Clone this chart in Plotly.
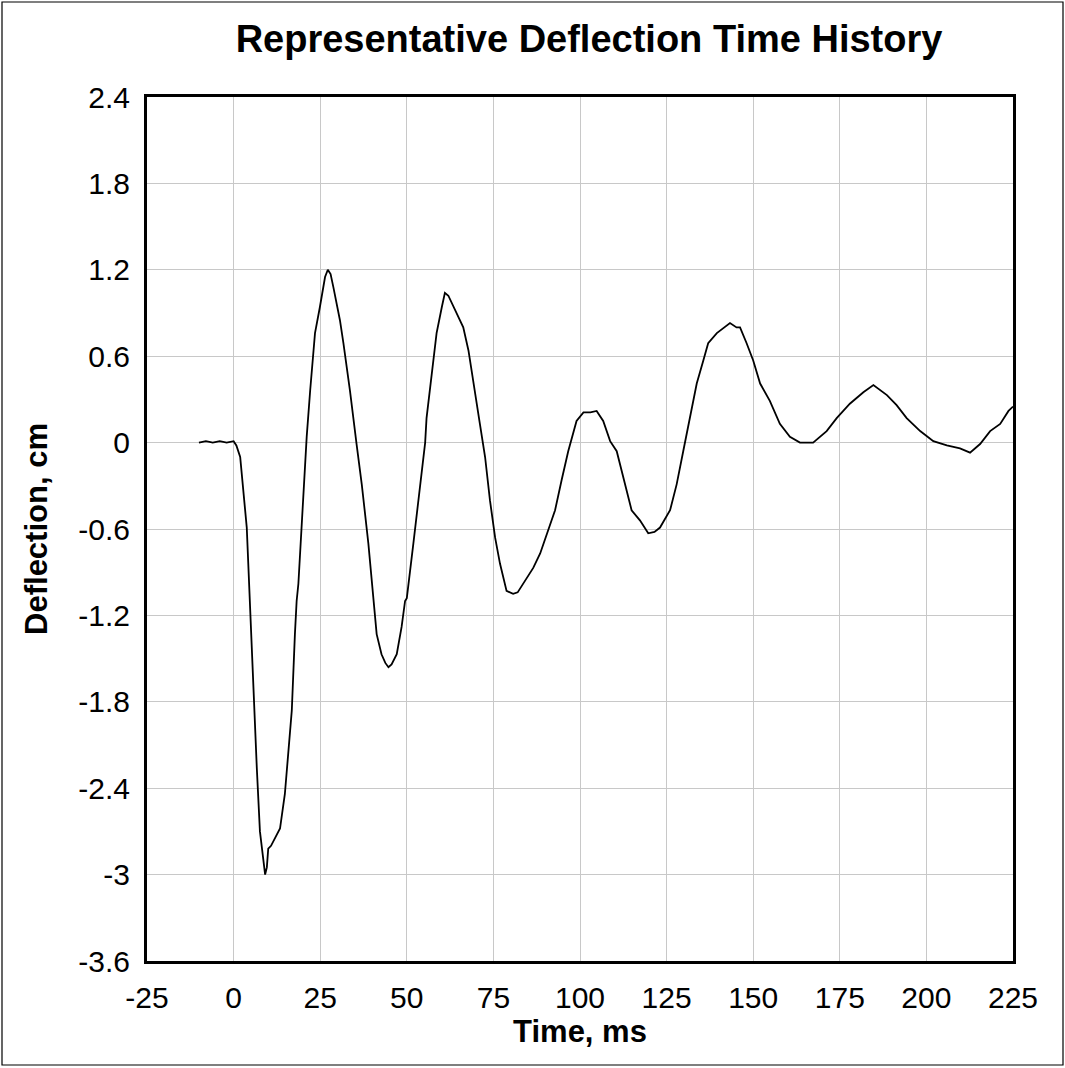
import plotly.graph_objects as go

# Time (ms) and deflection (cm)
time_ms = [-10, -8, -6, -4, -2, 0, 0.8, 1.9, 3.8, 4.7, 5.7, 6.7, 7.6, 8.6, 9.1, 9.6, 10.0, 10.8, 11.5, 13.4, 14.8,
           15.8, 16.8, 17.7, 18.2, 18.7, 20.1, 21.1, 22.1, 23.5, 24.9, 26.4, 27.2, 28.0, 28.8, 30.7,
           31.7, 33.6, 35.5, 37.0, 38.9, 40.3, 41.3, 42.7, 43.8, 44.7, 45.6, 47.1, 48.5, 49.5,
           50.0, 51.9, 53.8, 55.3, 55.7, 57.7, 58.6, 60.1, 61.0, 62.0, 63.9, 66.3, 67.8, 69.2,
           71.1, 72.6, 74.0, 75.5, 76.9, 78.8, 80.7, 82.0, 83.6, 86.5, 88.5, 90.4, 92.8, 94.7,
           96.6, 99.0, 101.0, 103.0, 104.8, 106.7, 108.7, 110.6, 112.5, 114.9, 117.3, 119.7,
           121.5, 123.1, 126.0, 127.9, 129.8, 131.7, 133.7, 135.6, 137.0, 139.5, 142.3, 143.3,
           145.2, 146.2, 148.1, 150.0, 152.0, 154.8, 157.7, 160.6, 163.5, 167.3, 171.2, 174.1,
           177.9, 181.8, 184.7, 186.5, 188.6, 191.4, 194.3, 198.2, 202.0, 205.9, 209.7, 212.6,
           215.5, 218.4, 221.3, 223.7, 225.0]
deflection_cm = [0.0, 0.01, 0.0, 0.01, 0.0, 0.01, -0.02, -0.1, -0.59, -1.15, -1.77, -2.26, -2.7, -2.92, -3.0, -2.95, -2.82, -2.8, -2.77, -2.68, -2.44,
                 -2.14, -1.86, -1.33, -1.1, -0.98, -0.40, 0.04, 0.36, 0.76, 0.94, 1.15, 1.2, 1.17, 1.08, 0.85,
                 0.69, 0.36, -0.01, -0.29, -0.70, -1.1, -1.33, -1.47, -1.53, -1.56, -1.54, -1.47, -1.28, -1.1,
                 -1.08, -0.70, -0.29, 0.0, 0.17, 0.57, 0.76, 0.94, 1.04, 1.02, 0.92, 0.80, 0.64, 0.41,
                 0.13, -0.1, -0.40, -0.66, -0.84, -1.03, -1.05, -1.04, -0.98, -0.87, -0.77, -0.63, -0.47, -0.26,
                 -0.06, 0.15, 0.21, 0.21, 0.22, 0.15, 0.01, -0.06, -0.24, -0.47, -0.54, -0.63,
                 -0.62, -0.59, -0.47, -0.29, -0.06, 0.17, 0.41, 0.57, 0.69, 0.76, 0.81, 0.83,
                 0.80, 0.80, 0.69, 0.57, 0.41, 0.29, 0.13, 0.04, 0.0, 0.0, 0.08, 0.17,
                 0.27, 0.35, 0.40, 0.37, 0.33, 0.26, 0.17, 0.08, 0.01, -0.02, -0.04, -0.07,
                 -0.01, 0.08, 0.13, 0.22, 0.25]

x_ticks = [-25, 0, 25, 50, 75, 100, 125, 150, 175, 200, 225]
y_ticks = [-3.6, -3.0, -2.4, -1.8, -1.2, -0.6, 0.0, 0.6, 1.2, 1.8, 2.4]
y_tick_labels = ["-3.6", "-3", "-2.4", "-1.8", "-1.2", "-0.6", "0", "0.6", "1.2", "1.8", "2.4"]

W, H = 1065, 1068
ML, MR, MT, MB = 147, 52, 97, 107

fig = go.Figure()
fig.add_trace(go.Scatter(x=time_ms, y=deflection_cm, mode="lines",
                         line=dict(color="black", width=1.8), showlegend=False))

font_family = "Liberation Sans, Arial, sans-serif"
fig.update_layout(
    width=W, height=H,
    margin=dict(l=ML, r=MR, t=MT, b=MB),
    paper_bgcolor="white", plot_bgcolor="white",
    font=dict(family=font_family, color="black", size=30),
    title=dict(text="<b>Representative Deflection Time History</b>",
               x=589 / W, xanchor="center",
               y=1 - 39 / H, yanchor="middle", font=dict(size=38)),
    xaxis=dict(range=[-25, 225], tickvals=x_ticks, ticktext=[str(v) for v in x_ticks],
               showgrid=True, gridcolor="#c8c8c8", gridwidth=1, zeroline=False,
               showline=True, linecolor="black", linewidth=3, mirror=True,
               ticks="", ticklen=0, tickfont=dict(size=30), ticklabelstandoff=8,
               title=dict(text="<b>Time, ms</b>", font=dict(size=31), standoff=6)),
    yaxis=dict(range=[-3.6, 2.4], tickvals=y_ticks, ticktext=y_tick_labels,
               showgrid=True, gridcolor="#c8c8c8", gridwidth=1, zeroline=False,
               showline=True, linecolor="black", linewidth=3, mirror=True,
               ticks="", ticklen=0, tickfont=dict(size=30), ticklabelstandoff=8,
               title=dict(text="<b>Deflection, cm</b>", font=dict(size=31), standoff=22)),
)

# outer border around the whole image
pw, ph = W - ML - MR, H - MT - MB
fig.add_shape(type="rect", xref="paper", yref="paper",
              x0=(2 - ML) / pw, x1=(W - 2 - ML) / pw,
              y0=-(H - 3 - MT - ph) / ph, y1=1 + (MT - 2) / ph,
              line=dict(color="black", width=1.2), fillcolor="rgba(0,0,0,0)", layer="below")

fig.write_html("out.html")
